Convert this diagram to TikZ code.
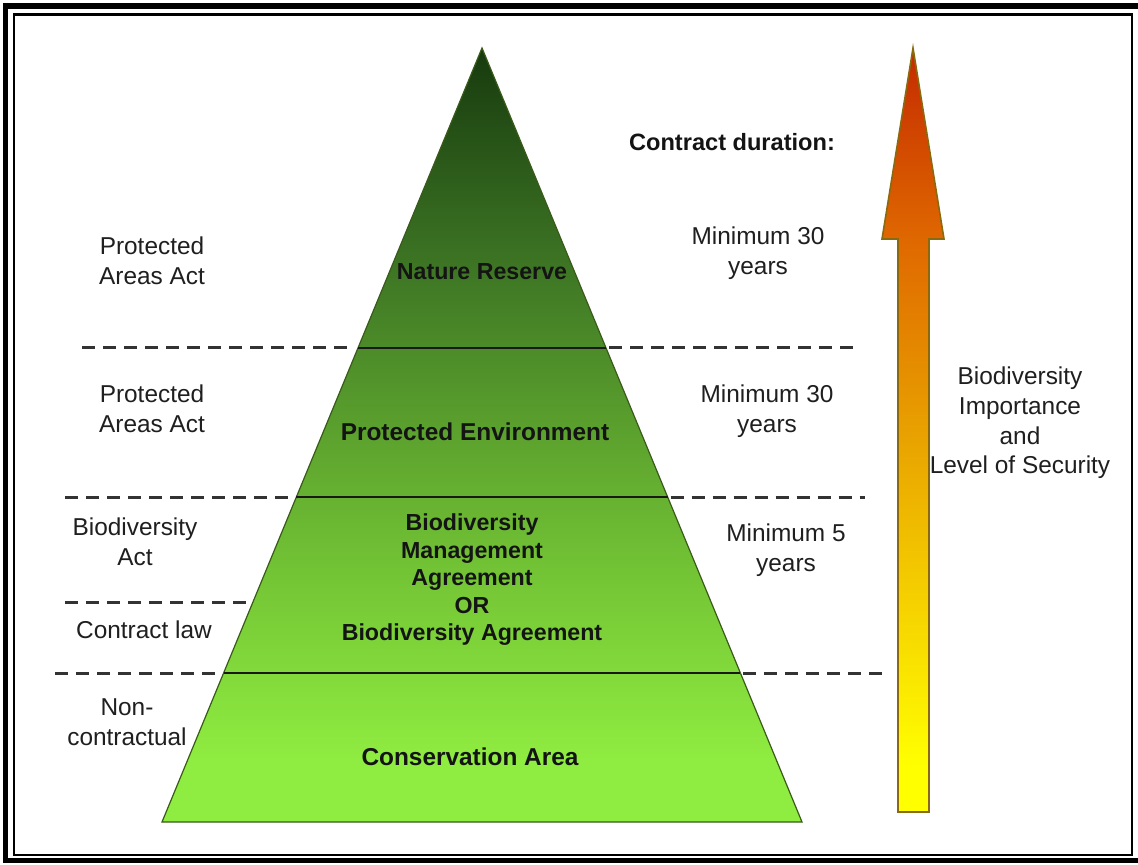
\documentclass[tikz,border=0pt]{standalone}
\usepackage{fontspec}
\setmainfont{Liberation Sans}
\definecolor{pyrtop}{HTML}{173A0E}
\definecolor{pyrhigh}{HTML}{3D7524}
\definecolor{pyrmid}{HTML}{5CA22E}
\definecolor{pyrlow}{HTML}{76C836}
\definecolor{pyrbot}{HTML}{8FEC40}
\definecolor{arrtop}{HTML}{C42A00}
\definecolor{arrhigh}{HTML}{E06A00}
\definecolor{arrmid}{HTML}{E8A000}
\definecolor{arrlow}{HTML}{F5D000}
\definecolor{arrbot}{HTML}{FFFF00}
\definecolor{arredge}{HTML}{8A6A10}
\definecolor{pyredge}{HTML}{3A5A1A}
\pgfdeclareverticalshading{pyrshade}{100bp}{color(0bp)=(pyrbot); color(29bp)=(pyrbot); color(40bp)=(pyrlow); color(50bp)=(pyrmid); color(61bp)=(pyrhigh); color(75bp)=(pyrtop); color(100bp)=(pyrtop)}
\pgfdeclareverticalshading{arrshade}{100bp}{color(0bp)=(arrbot); color(28bp)=(arrbot); color(39bp)=(arrlow); color(50bp)=(arrmid); color(62bp)=(arrhigh); color(75bp)=(arrtop); color(100bp)=(arrtop)}
\begin{document}
\begin{tikzpicture}[x=0.5pt,y=-0.5pt,
  lawtext/.style={align=center, inner sep=0pt, text=black!88, font=\fontsize{12.2}{14.8}\selectfont},
  tiertext/.style={align=center, inner sep=0pt, text=black!92, font=\fontsize{11.6}{13.8}\selectfont\bfseries},
  dashline/.style={draw=black!80, line width=1.5pt, dash pattern=on 6.5pt off 4pt},
  tierline/.style={draw=black!90, line width=1.4pt}]
\clip (0,0) rectangle (1138,865);
\fill[white] (0,0) rectangle (1138,865);
% double frame
\draw[line width=2.8pt] (5.5,6) rectangle (1143,860.5);
\draw[line width=1.4pt] (14,14.5) rectangle (1132,855);
% pyramid
\pgfmathsetmacro\apexx{482}
\pgfmathsetmacro\apexy{48}
\pgfmathsetmacro\basey{822}
\pgfmathsetmacro\halfbase{320}
\pgfmathsetmacro\slope{\halfbase/(\basey-\apexy)}
\coordinate (apex) at (\apexx,\apexy);
\coordinate (baseleft) at (\apexx-\halfbase,\basey);
\coordinate (baseright) at (\apexx+\halfbase,\basey);
\shade[shading=pyrshade, draw=pyredge, line width=0.6pt] (apex) -- (baseleft) -- (baseright) -- cycle;
% tier boundaries: solid inside, dashed outside
\foreach \y/\l/\r in {348/82/857, 497/65/865, 673/55/882} {
  \pgfmathsetmacro\dx{\slope*(\y-\apexy)}
  \draw[tierline] (\apexx-\dx,\y) -- (\apexx+\dx,\y);
  \draw[dashline] (\l,\y) -- (\apexx-\dx-3,\y);
  \draw[dashline] (\apexx+\dx+3,\y) -- (\r,\y);
}
\pgfmathsetmacro\dx{\slope*(602-\apexy)}
\draw[dashline] (65,602) -- (\apexx-\dx-3,602);
% arrow
\shade[shading=arrshade, draw=arredge, line width=0.8pt] (898,812) -- (898,239) -- (882,239) -- (913,48) -- (944,239) -- (929,239) -- (929,812) -- cycle;
% tier names
\node[tiertext] (reserve) at (482,272) {Nature Reserve};
\node[tiertext, font=\fontsize{12.2}{14}\selectfont\bfseries] (environment) at (475,432) {Protected Environment};
\node[tiertext, font=\fontsize{11.6}{13.75}\selectfont\bfseries] (agreement) at (472,580) {Biodiversity\\Management\\Agreement\\OR\\Biodiversity Agreement};
\node[tiertext, font=\fontsize{12.2}{14}\selectfont\bfseries] (conservation) at (470,757) {Conservation Area};
% legislation
\node[lawtext] (actreserve) at (152,261) {Protected\\Areas Act};
\node[lawtext] (actenvironment) at (152,409) {Protected\\Areas Act};
\node[lawtext] (actbiodiversity) at (135,542) {Biodiversity\\Act};
\node[lawtext] (contractlaw) at (144,630) {Contract law};
\node[lawtext] (noncontract) at (127,722) {Non-\\contractual};
% contract duration
\node[tiertext, font=\fontsize{11.8}{14}\selectfont\bfseries] (duration) at (732,142) {Contract duration:};
\node[lawtext] (durreserve) at (758,253) {Minimum 30\\years};
\node[lawtext] (durenvironment) at (767,411) {Minimum 30\\years};
\node[lawtext] (duragreement) at (786,550) {Minimum 5\\years};
\node[lawtext] (importance) at (1020,423) {Biodiversity\\Importance\\and\\Level of Security};
\end{tikzpicture}
\end{document}
